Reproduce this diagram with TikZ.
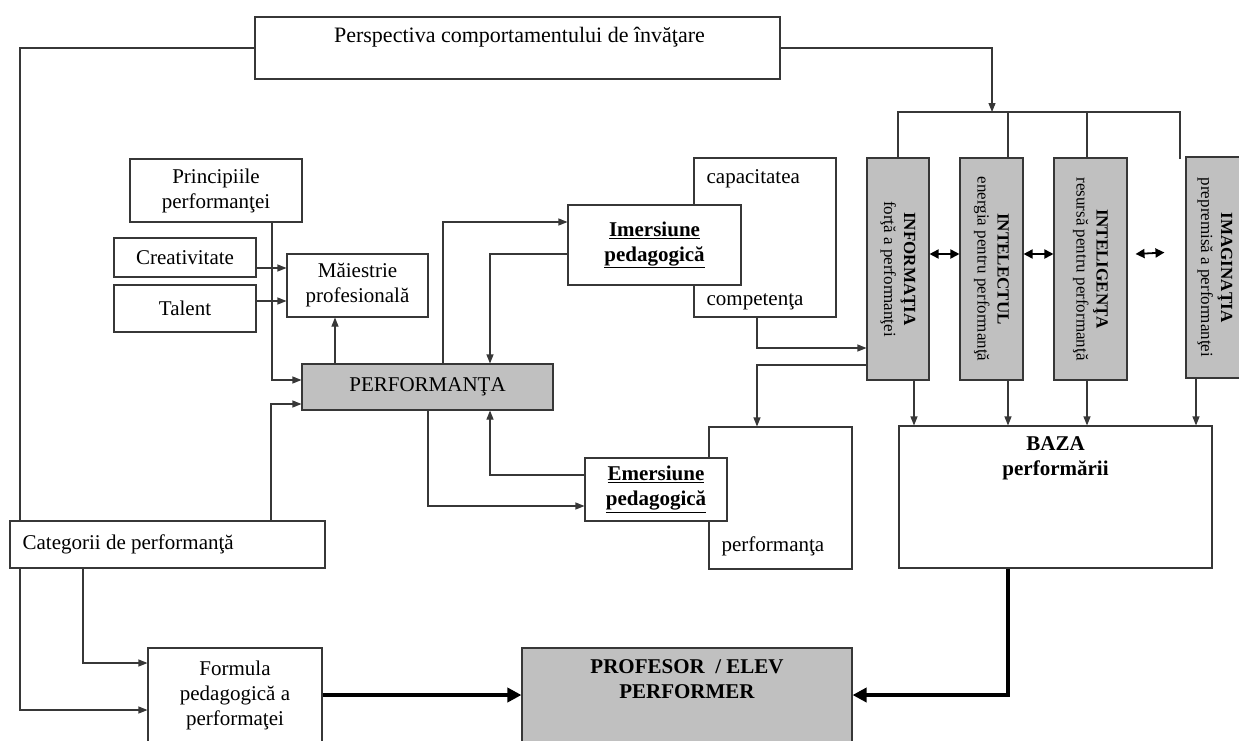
\documentclass[tikz,border=0pt]{standalone}
\usepackage{fontspec}
\setmainfont{Liberation Serif}
\usetikzlibrary{arrows.meta, positioning, calc, backgrounds}
\definecolor{boxgray}{RGB}{192,192,192}
\definecolor{linegray}{RGB}{55,55,55}

\begin{document}
\begin{tikzpicture}[
    x=1pt, y=-1pt,
    box/.style={draw=linegray,line width=1.1pt,fill=white,inner sep=0pt,align=center,
                font=\fontsize{21}{25}\selectfont},
    graybox/.style={box,fill=boxgray},
    txt/.style={inner sep=0pt,align=center,font=\fontsize{21}{25}\selectfont},
    vtxt/.style={inner sep=0pt,align=center,rotate=-90,font=\fontsize{17}{20}\selectfont},
    ln/.style={line width=1.1pt,linegray},
    arr/.style={-{Triangle[length=9pt,width=7pt]},line width=1.1pt,linegray},
    dbl/.style={{Triangle[length=9pt,width=9pt]}-{Triangle[length=9pt,width=9pt]},line width=1.8pt,black},
    fat/.style={-{Triangle[length=14pt,width=14pt]},line width=3.6pt,black}
]
  \useasboundingbox (0,0) rectangle (1239,740);

  % Top
  \node[box,minimum width=525pt,minimum height=62pt] (persp) at (517.5,48) {};
  \node[txt,font=\fontsize{22}{26}\selectfont] (perspT) at ($(persp.north)+(2,21)$)
    {Perspectiva comportamentului de învăţare};

  % Left cluster
  \node[box,minimum width=172pt,minimum height=63pt] (princ) at (216,190.5) {Principiile\\performanţei};
  \node[box,minimum width=142pt,minimum height=39pt] (creat) at (185,257.5) {Creativitate};
  \node[box,minimum width=142pt,minimum height=47pt] (talent) at (185,308.5) {Talent};
  \node[box,minimum width=141pt,minimum height=63pt] (maiest) at (357.5,285.5) {Măiestrie\\profesională};
  \node[graybox,minimum width=251pt,minimum height=46pt] (perf) at (427.5,387) {PERFORMANŢA};

  % Middle
  \node[box,minimum width=142pt,minimum height=159pt] (capac) at (765,237.5) {};
  \node[txt,anchor=west] (capacT) at ($(capac.north west)+(13,21)$) {capacitatea};
  \node[txt,anchor=west] (compT) at ($(capac.south west)+(13,-16)$) {competenţa};
  \node[box,minimum width=173pt,minimum height=80pt] (imers) at (654.5,245)
    {\underline{\textbf{Imersiune}}\\\underline{\textbf{pedagogică}}};
  \node[box,minimum width=143pt,minimum height=142pt] (perfbox) at (780.5,498) {};
  \node[txt,anchor=west] (perfT) at ($(perfbox.south west)+(13,-23)$) {performanţa};
  \node[box,minimum width=142pt,minimum height=63pt] (emers) at (656,489.5)
    {\underline{\textbf{Emersiune}}\\\underline{\textbf{pedagogică}}};

  % Right columns
  \node[graybox,minimum width=62pt,minimum height=222pt] (info) at (898,269) {};
  \node[graybox,minimum width=63pt,minimum height=222pt] (intel) at (991.5,269) {};
  \node[graybox,minimum width=73pt,minimum height=222pt] (intelig) at (1090.5,269) {};
  \node[graybox,minimum width=58pt,minimum height=221pt] (imag) at (1215,267.5) {};
  \node[vtxt] at (info) {\textbf{INFORMAŢIA}\\forţă a performanţei};
  \node[vtxt] at (intel) {\textbf{INTELECTUL}\\energia pentru performanţă};
  \node[vtxt] at (intelig) {\textbf{INTELIGENŢA}\\resursă pentru performanţă};
  \node[vtxt] at (imag) {\textbf{IMAGINAŢIA}\\prepremisă a performanţei};
  \node[box,minimum width=313pt,minimum height=142pt] (baza) at (1055.5,497) {};
  \node[txt] (bazaT) at ($(baza.north)+(0,33)$) {\textbf{BAZA}\\\textbf{performării}};

  % Bottom
  \node[box,minimum width=315pt,minimum height=47pt] (categ) at (167.5,544.5) {};
  \node[txt,right=13pt of categ.west] (categT) {Categorii de performanţă};
  \node[box,minimum width=174pt,minimum height=94pt] (formula) at (235,695)
    {Formula\\pedagogică a\\performaţei};
  \node[graybox,minimum width=330pt,minimum height=94pt] (prof) at (687,695) {};
  \node[txt] (profT) at ($(prof.north)+(0,32)$) {\textbf{PROFESOR~~/ ELEV}\\\textbf{PERFORMER}};

  % Helper points
  \coordinate (bus) at (992,112);
  \coordinate (imagtap) at (1180,159);
  \coordinate (lft) at (20,600);

  % Arrows
  \begin{scope}[on background layer]
    \draw[arr] (persp.west) -| (lft) |- ($(formula.west)+(0,15)$);
  \end{scope}
  \draw[arr] (persp.east) -| (bus);
  \foreach \b/\dx in {info/0,intel/16.5,intelig/-3.5}{
    \coordinate (t) at ($(\b.north)+(\dx,0)$);
    \draw[ln] (t) |- (bus);
  }
  \draw[ln] (imagtap) |- (bus);
  \foreach \b/\dx in {info/16,intel/16.5,intelig/-3.5,imag/-19}{
    \coordinate (t) at ($(\b.south)+(\dx,0)$);
    \draw[arr] (t) -- (t |- baza.north);
  }
  \draw[dbl] ($(info.east)+(0,-15)$) -- ($(intel.west)+(0,-15)$);
  \draw[dbl] ($(intel.east)+(0,-15)$) -- ($(intelig.west)+(0,-15)$);
  \draw[dbl] ($(intelig.east)+(8,-15)$) -- ($(imag.west)+(-21,-15)$);

  \coordinate (c1) at ($(creat.east)+(0,10.5)$);
  \coordinate (c2) at ($(talent.east)+(0,-7.5)$);
  \draw[arr] (c1) -- (c1 -| maiest.west);
  \draw[arr] (c2) -- (c2 -| maiest.west);
  \draw[arr] ($(princ.south)+(56,0)$) |- ($(perf.west)+(0,-7)$);
  \draw[arr] ($(categ.north)+(103.5,0)$) |- ($(perf.west)+(0,17)$);
  \coordinate (p1) at ($(perf.north)+(-92.5,0)$);
  \draw[arr] (p1) -- (p1 |- maiest.south);
  \draw[arr] ($(perf.north)+(15.5,0)$) |- ($(imers.west)+(0,-23)$);
  \draw[arr] ($(imers.west)+(0,9)$) -| ($(perf.north)+(62.5,0)$);
  \draw[arr] ($(perf.south)+(0.5,0)$) |- ($(emers.west)+(0,16.5)$);
  \draw[arr] ($(emers.west)+(0,-14.5)$) -| ($(perf.south)+(62.5,0)$);
  \draw[arr] ($(capac.south)+(-8,0)$) |- ($(info.west)+(0,79)$);
  \draw[arr] ($(info.west)+(0,96)$) -| ($(perfbox.north)+(-23.5,0)$);
  \draw[arr] ($(categ.south)+(-84.5,0)$) |- ($(formula.west)+(0,-32)$);

  % Thick arrows
  \draw[fat] (formula.east) -- (prof.west);
  \draw[fat] ($(baza.south)+(-47.5,0)$) |- (prof.east);
\end{tikzpicture}
\end{document}
